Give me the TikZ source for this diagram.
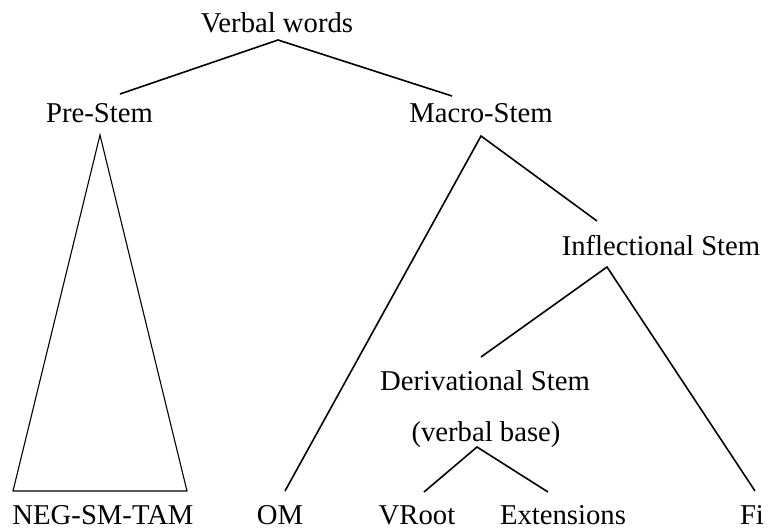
\documentclass[tikz,border=0pt]{standalone}
\usepackage{fontspec}
\setmainfont{Liberation Serif}
\begin{document}
\begin{tikzpicture}[x=1pt,y=-1pt,
  lbl/.style={anchor=base,inner sep=0pt,font=\fontsize{28.7}{34}\selectfont},
  branch/.style={line width=1.6pt},
  tri/.style={line width=1.1pt,line join=miter}]
\useasboundingbox (0,0) rectangle (768,529);
% labels
\node[lbl] (vw) at (277,33) {Verbal words};
\node[lbl] (pre) at (99.5,123) {Pre-Stem};
\node[lbl] (macro) at (481,123) {Macro-Stem};
\node[lbl] (infl) at (661,256) {Inflectional Stem};
\node[lbl] (deriv) at (485,390) {Derivational Stem};
\node[lbl] (vbase) at (486,441) {(verbal base)};
\node[lbl] (neg) at (103,524) {NEG-SM-TAM};
\node[lbl] (om) at (280,524) {OM};
\node[lbl] (vroot) at (417,524) {VRoot};
\node[lbl] (ext) at (563,524) {Extensions};
\node[lbl] (fi) at (752,524) {Fi};
% connector points
\coordinate (vwT) at (278,40);
\coordinate (preT) at (120,94);
\coordinate (macroT) at (452,96);
\coordinate (macroB) at (481,136);
\coordinate (omT) at (285,491);
\coordinate (inflT) at (597,221);
\coordinate (inflB) at (607,267);
\coordinate (derivT) at (481,357);
\coordinate (fiT) at (755,491);
\coordinate (vbB) at (477,447);
\coordinate (vrootT) at (424,492);
\coordinate (extT) at (548,492);
\coordinate (triA) at (100,135);
\coordinate (triL) at (13,491);
\coordinate (triR) at (187,491);
% branches
\draw[branch] (preT) -- (vwT) -- (macroT);
\draw[branch] (omT) -- (macroB) -- (inflT);
\draw[branch] (derivT) -- (inflB) -- (fiT);
\draw[branch] (vrootT) -- (vbB) -- (extT);
\draw[tri] (triA) -- (triL) -- (triR) -- cycle;
\end{tikzpicture}
\end{document}
